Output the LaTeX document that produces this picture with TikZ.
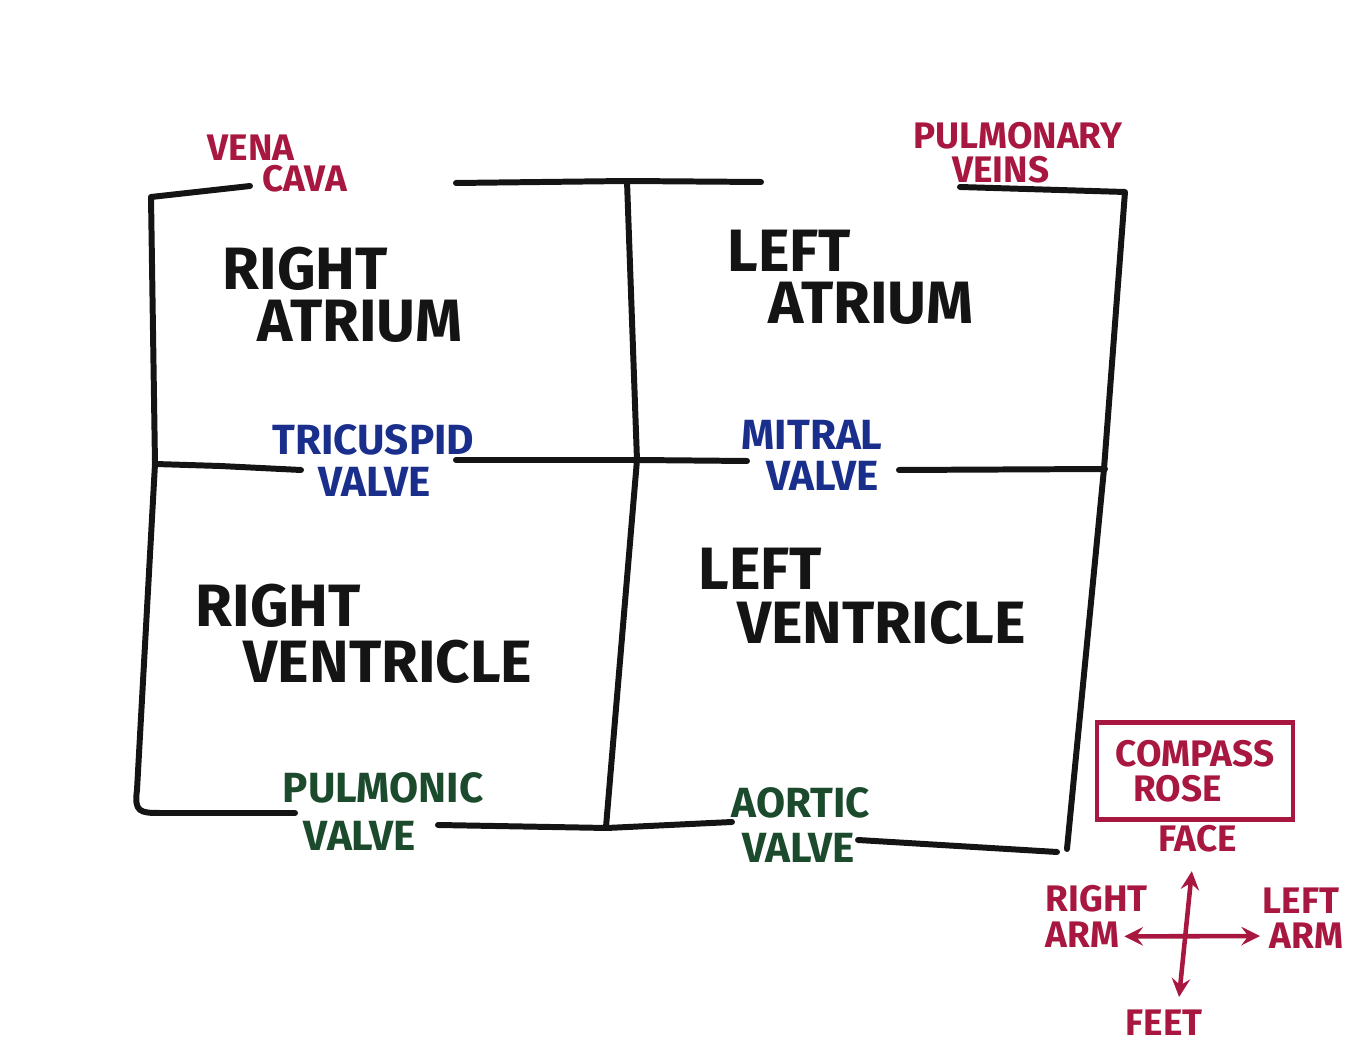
\documentclass[tikz,border=0pt]{standalone}
\usepackage{fontspec}
\setmainfont{Fira Sans}
\usetikzlibrary{calc}

\definecolor{penred}{HTML}{A8173F}
\definecolor{penblue}{HTML}{1A2F8C}
\definecolor{pengreen}{HTML}{1B4A2C}
\definecolor{penblack}{HTML}{141414}

\begin{document}
\begin{tikzpicture}[x=0.01cm, y=-0.01cm,
  wall/.style={line width=1.7pt, penblack, line cap=round, line join=round},
  chamber/.style={penblack, anchor=north west, inner sep=0pt, align=left,
    font=\fontsize{17}{14}\selectfont\bfseries},
  valve/.style={anchor=north west, inner sep=0pt, align=left,
    font=\fontsize{12}{10}\selectfont\bfseries},
  note/.style={penred, anchor=north west, inner sep=0pt, align=left,
    font=\fontsize{10.5}{8}\selectfont\bfseries}]
 \useasboundingbox (0,0) rectangle (1356,1052);

 % walls
 \draw[wall] (250,186)--(151,197)--(155,464)--(137,790) .. controls (134,812) and (140,813) .. (160,813)--(295,813);
 \draw[wall] (456,183)--(627,181)--(761,182);
 \draw[wall] (627,181)--(637,460)--(606,827);
 \draw[wall] (960,187)--(1125,192)--(1104,469)--(1067,849);

 % valves
 \draw[wall] (155,464)--(220,466)--(301,470);
 \draw[wall] (456,460)--(637,460)--(747,461);
 \draw[wall] (899,470)--(1105,469);
 \draw[wall] (438,825)--(607,828)--(732,822);
 \draw[wall] (858,840)--(1057,852);

 % chambers
 \node[chamber] at (222,246) (ratrium) {RIGHT\\[1pt]\hspace*{10pt}ATRIUM};
 \node[chamber] at (727,229) (latrium) {LEFT\\[1pt]\hspace*{11.7pt}ATRIUM};
 \node[chamber] at (195,583) (rventricle) {RIGHT\\[2pt]\hspace*{13.7pt}VENTRICLE};
 \node[chamber] at (698,547) (lventricle) {LEFT\\[1.6pt]\hspace*{11pt}VENTRICLE};

 \node[valve, penblue] at (272,424) (tricuspid) {TRICUSPID\\[2pt]\hspace*{13pt}VALVE};
 \node[valve, penblue] at (741,420) (mitral) {MITRAL\\[1.5pt]\hspace*{7pt}VALVE};
 \node[valve, pengreen] at (282,772) (pulmonic) {PULMONIC\\[3.7pt]\hspace*{6pt}VALVE};
 \node[valve, pengreen] at (731,787) (aortic) {AORTIC\\[2.8pt]\hspace*{3pt}VALVE};

 \node[note] at (207,134) (vena) {VENA\\[1pt]\hspace*{15.6pt}CAVA};
 \node[note] at (913,122) (pveins) {PULMONARY\\[1.5pt]\hspace*{11pt}VEINS};

 % compass rose
 \node[note, anchor=center, draw=penred, line width=1.3pt, inner xsep=5pt, inner ysep=5pt,
   minimum width=55.8pt, minimum height=26pt] at (1195,771) (compass) {COMPASS\\[2pt]\hspace*{5pt}ROSE};
 \node[note] at (1158,825) (face) {FACE};
 \node[note] at (1125,1009) (feet) {FEET};
 \node[note] at (1045,885) (rarm) {RIGHT\\[2pt]ARM};
 \node[note] at (1262,887) (larm) {LEFT\\[2pt]\hspace*{2pt}ARM};

 \draw[line width=1.3pt, penred, stealth-stealth] ($(face.south)+(-6,18)$)--($(feet.north)+(15,-12)$);
 \draw[line width=1.3pt, penred, stealth-stealth] ($(rarm.east)+(-24,20)$)--($(larm.west)+(-2,18)$);
\end{tikzpicture}
\end{document}
